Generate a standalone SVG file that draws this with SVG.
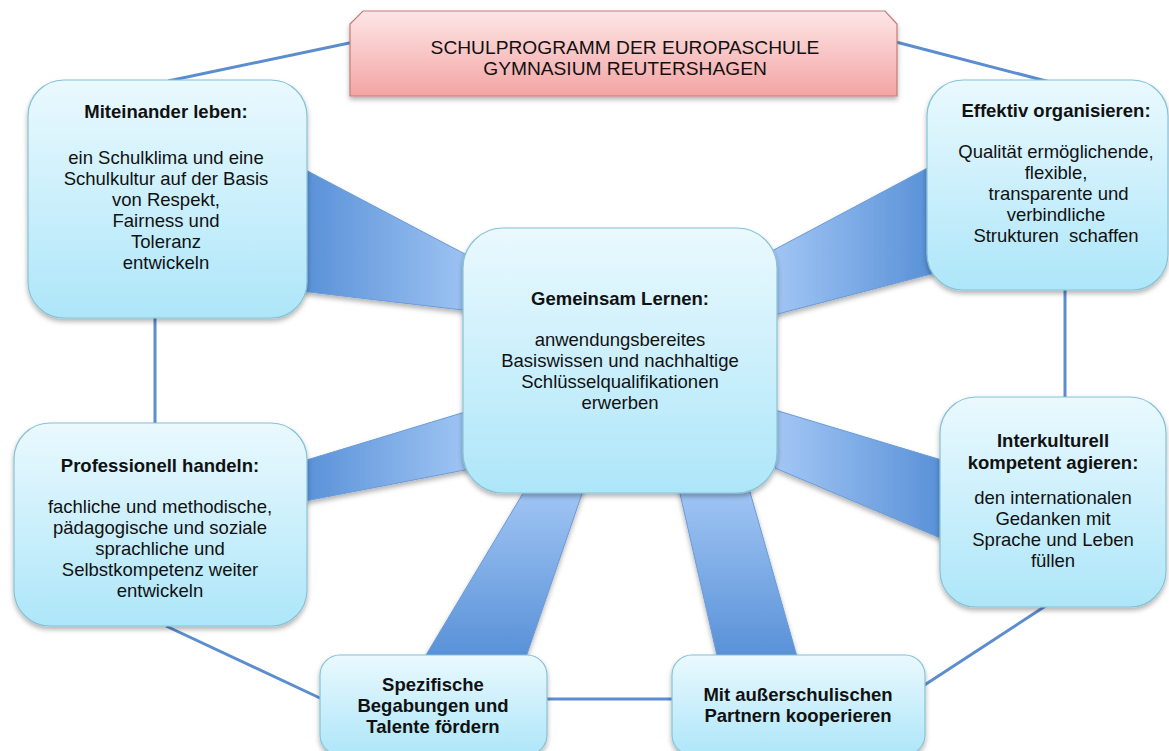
<svg xmlns="http://www.w3.org/2000/svg" width="1169" height="751" viewBox="0 0 1169 751">
<defs>
<linearGradient id="boxg" x1="0" y1="0" x2="0" y2="1">
<stop offset="0" stop-color="#eaf9fe"/>
<stop offset="1" stop-color="#ade6f9"/>
</linearGradient>
<linearGradient id="titleg" x1="0" y1="0" x2="0" y2="1">
<stop offset="0" stop-color="#fde6e6"/>
<stop offset="1" stop-color="#f4a4a4"/>
</linearGradient>
<linearGradient id="spL" x1="0" y1="0" x2="1" y2="0">
<stop offset="0" stop-color="#5790d7"/>
<stop offset="1" stop-color="#a3c7f5"/>
</linearGradient>
<linearGradient id="spR" x1="0" y1="0" x2="1" y2="0">
<stop offset="0" stop-color="#a3c7f5"/>
<stop offset="1" stop-color="#5790d7"/>
</linearGradient>
<linearGradient id="spB" x1="0" y1="0" x2="0" y2="1">
<stop offset="0" stop-color="#a3c7f5"/>
<stop offset="1" stop-color="#5790d7"/>
</linearGradient>
<filter id="sh" x="-10%" y="-10%" width="120%" height="130%">
<feDropShadow dx="0" dy="3" stdDeviation="2.5" flood-color="#000" flood-opacity="0.3"/>
</filter>
</defs>
<style>
.box{fill:url(#boxg);stroke:#86c2d6;stroke-width:1.2;filter:url(#sh)}
.ln{stroke:#5b8dcf;stroke-width:3;fill:none}
.sp{stroke:#6b9bd6;stroke-width:1;filter:url(#sh)}
text{font-family:"Liberation Sans",Arial,sans-serif;font-size:18.5px;fill:#111;text-anchor:middle}
.b{font-weight:bold}
.t{font-size:19.2px}
.pre{white-space:pre}
</style>
<g id="connectors">
<line class="ln" x1="168" y1="81" x2="354" y2="42"/>
<line class="ln" x1="896" y1="42" x2="1050" y2="82"/>
<line class="ln" x1="155" y1="316" x2="155" y2="425"/>
<line class="ln" x1="1065" y1="288" x2="1065" y2="399"/>
<line class="ln" x1="166" y1="626" x2="322" y2="699"/>
<line class="ln" x1="545" y1="699" x2="674" y2="699"/>
<line class="ln" x1="923" y1="686" x2="1047" y2="605"/>
<polygon class="sp" fill="url(#spL)" points="300,167 480,262 480,312 300,291"/>
<polygon class="sp" fill="url(#spR)" points="770,252 935,164 935,273 770,316"/>
<polygon class="sp" fill="url(#spL)" points="300,462 475,409 475,468 300,502"/>
<polygon class="sp" fill="url(#spR)" points="775,410 945,461 945,540 775,468"/>
<polygon class="sp" fill="url(#spB)" points="528,485 585,485 525,660 423,660"/>
<polygon class="sp" fill="url(#spB)" points="678,485 748,485 798,660 718,660"/>
</g>
<g id="title">
<polygon points="363,11 885,11 897,24 897,96 350,96 350,24" fill="url(#titleg)" stroke="#c77a7a" stroke-width="1.2" filter="url(#sh)"/>
<text class="t" x="625" y="54">SCHULPROGRAMM DER EUROPASCHULE</text>
<text class="t" x="625" y="75">GYMNASIUM REUTERSHAGEN</text>
</g>
<g id="miteinander">
<rect class="box" x="28" y="80" width="279" height="238" rx="36"/>
<text class="b" x="166" y="118">Miteinander leben:</text>
<text x="166" y="164">ein Schulklima und eine</text>
<text x="166" y="185">Schulkultur auf der Basis</text>
<text x="166" y="206">von Respekt,</text>
<text x="166" y="227">Fairness und</text>
<text x="166" y="248">Toleranz</text>
<text x="166" y="269">entwickeln</text>
</g>
<g id="effektiv">
<rect class="box" x="927" y="80" width="241" height="210" rx="36"/>
<text class="b" x="1056" y="117">Effektiv organisieren:</text>
<text x="1056" y="158">Qualität ermöglichende,</text>
<text x="1056" y="179">flexible,</text>
<text x="1056" y="200" class="pre"> transparente und</text>
<text x="1056" y="221">verbindliche</text>
<text x="1056" y="242" class="pre">Strukturen  schaffen</text>
</g>
<g id="gemeinsam">
<rect class="box" x="463" y="228" width="314" height="265" rx="40"/>
<text class="b" x="620" y="305">Gemeinsam Lernen:</text>
<text x="620" y="346">anwendungsbereites</text>
<text x="620" y="367">Basiswissen und nachhaltige</text>
<text x="620" y="388">Schlüsselqualifikationen</text>
<text x="620" y="409">erwerben</text>
</g>
<g id="professionell">
<rect class="box" x="14" y="423" width="293" height="203" rx="36"/>
<text class="b" x="160" y="472">Professionell handeln:</text>
<text x="160" y="513">fachliche und methodische,</text>
<text x="160" y="534">pädagogische und soziale</text>
<text x="160" y="555">sprachliche und</text>
<text x="160" y="576">Selbstkompetenz weiter</text>
<text x="160" y="597">entwickeln</text>
</g>
<g id="interkulturell">
<rect class="box" x="940" y="397" width="226" height="210" rx="36"/>
<text class="b" x="1053" y="447">Interkulturell</text>
<text class="b" x="1053" y="469">kompetent agieren:</text>
<text x="1053" y="504">den internationalen</text>
<text x="1053" y="525">Gedanken mit</text>
<text x="1053" y="546">Sprache und Leben</text>
<text x="1053" y="567">füllen</text>
</g>
<g id="spezifische">
<rect class="box" x="320" y="655" width="227" height="100" rx="20"/>
<text class="b" x="433" y="691">Spezifische</text>
<text class="b" x="433" y="712">Begabungen und</text>
<text class="b" x="433" y="733">Talente fördern</text>
</g>
<g id="partner">
<rect class="box" x="672" y="655" width="253" height="100" rx="20"/>
<text class="b" x="798" y="701">Mit außerschulischen</text>
<text class="b" x="798" y="722">Partnern kooperieren</text>
</g>
</svg>
